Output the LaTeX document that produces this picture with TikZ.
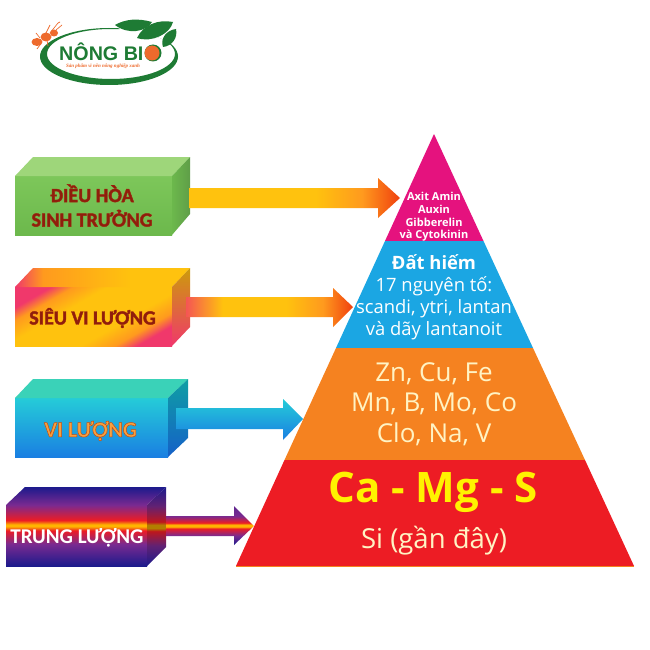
\documentclass[tikz,border=0pt]{standalone}
\usepackage{fontspec}
\setmainfont{Open Sans}
\newfontfamily\calfont{Carlito}
\definecolor{gA}{HTML}{7DC75A}\definecolor{gB}{HTML}{6CB84C}\definecolor{gTop}{HTML}{9ED67A}\definecolor{gSide}{HTML}{5F9E48}
\definecolor{mag}{HTML}{E5127E}\definecolor{sky}{HTML}{1BA6E3}\definecolor{org}{HTML}{F58220}\definecolor{rd}{HTML}{ED1C24}
\definecolor{lgreen}{HTML}{1E7B34}\definecolor{lorange}{HTML}{EE6A2C}\definecolor{yel}{HTML}{FFC20E}\definecolor{cream}{HTML}{FFF3C4}
\definecolor{dred}{HTML}{8E1E0C}\definecolor{purp}{HTML}{7A2A90}\definecolor{navy}{HTML}{1C1A8C}\definecolor{pinkr}{HTML}{F0386B}
\definecolor{amber}{HTML}{FF9A1E}\definecolor{hot}{HTML}{F0400E}\definecolor{stripe}{HTML}{FFB400}
\definecolor{cyA}{HTML}{25CCD8}\definecolor{cyB}{HTML}{1A7FE2}\definecolor{tealT}{HTML}{3AD2B8}\definecolor{tealS}{HTML}{0F9FA4}\definecolor{blS}{HTML}{1560C8}
\definecolor{lblV}{HTML}{F7A040}
\pgfdeclareverticalshading{boxdiag}{100bp}{color(0bp)=(pinkr);color(25bp)=(pinkr);color(31bp)=(amber);color(40bp)=(yel);color(60bp)=(yel);color(69bp)=(amber);color(75bp)=(pinkr);color(100bp)=(pinkr)}
\pgfdeclarehorizontalshading{boxtop}{100bp}{color(0bp)=(pinkr);color(25bp)=(pinkr);color(33bp)=(amber);color(58bp)=(yel);color(100bp)=(yel)}
\pgfdeclarehorizontalshading{warmA}{100bp}{color(0bp)=(yel);color(55bp)=(yel);color(66bp)=(amber);color(75bp)=(hot);color(100bp)=(hot)}
\pgfdeclarehorizontalshading{warmB}{100bp}{color(0bp)=(pinkr);color(25bp)=(pinkr!70!amber);color(36bp)=(yel);color(55bp)=(yel);color(66bp)=(amber);color(75bp)=(hot);color(100bp)=(hot)}
\pgfdeclareverticalshading{bandF}{100bp}{color(0bp)=(navy);color(25bp)=(navy);color(43bp)=(purp);color(54bp)=(rd);color(57.5bp)=(stripe);color(59bp)=(stripe);color(62.5bp)=(rd);color(75bp)=(purp);color(100bp)=(purp)}
\pgfdeclareverticalshading{bandS}{100bp}{color(0bp)=(navy);color(25bp)=(navy);color(38bp)=(purp!80!black);color(47bp)=(rd!80!black);color(49bp)=(stripe!70!black);color(51bp)=(stripe!70!black);color(53bp)=(rd!80!black);color(63bp)=(purp!80!black);color(75bp)=(navy);color(100bp)=(navy)}
\pgfdeclareverticalshading{bandA}{100bp}{color(0bp)=(navy);color(25bp)=(navy);color(37bp)=(purp);color(46bp)=(rd);color(48.5bp)=(stripe);color(51bp)=(stripe);color(53.5bp)=(rd);color(62bp)=(purp);color(75bp)=(purp!70!navy);color(100bp)=(navy)}
\newcommand{\halo}[3]{\special{pdf:code 2 Tr #2 w #1 RG}#3\special{pdf:code 0 Tr}}
\newcommand{\darkhalo}[1]{\halo{0.62 0.14 0.05}{0.45}{#1}}
\tikzset{
 x=1pt,y=-1pt,
 boxlabel/.style={font=\calfont\bfseries\fontsize{20}{24.5}\selectfont,align=center,inner sep=0},
 tier/.style={align=center,inner sep=0,text=white},
 edge/.style={line width=0.8pt}
}
\begin{document}
\begin{tikzpicture}
\useasboundingbox (0,0) rectangle (650,650);
\fill[white] (0,0) rectangle (650,650);
% --- logo
\fill[lgreen,even odd rule] (109,56.5) ellipse [x radius=69,y radius=28.5] (111,54) ellipse [x radius=64,y radius=25];
\fill[white] (118,18) -- (182,18) -- (184,44) -- (174,44) -- (150,34) -- (120,32) -- cycle;
\fill[lorange] (37,42) ellipse [x radius=5.5,y radius=4];
\fill[lorange] (46,37) ellipse [x radius=5.5,y radius=4.5];
\fill[lorange] (54,33) ellipse [x radius=4,y radius=3.5];
\draw[lorange,line width=.7pt] (46,33) -- (50,25) (50,33) -- (58,23) -- (60,22) (56,30) -- (62,25) (40,38) -- (36,33) (40,45) -- (37,49) (47,40) -- (48,46);
\fill[lgreen] (115,25) .. controls (125,19) and (138,18) .. (152,22) .. controls (146,32) and (128,35) .. (115,25);
\fill[lgreen] (137,38) .. controls (143,25) and (158,19) .. (173,22) .. controls (170,34) and (152,43) .. (137,38);
\fill[lgreen] (163,47) .. controls (160,38) and (167,30) .. (176,29) .. controls (178,38) and (172,46) .. (163,47);
\fill[lgreen] (153,53) circle (8.5);
\fill[lorange] (152,53) circle (7.5);
\node[inner sep=0,text=lgreen,font=\fontspec{Liberation Sans}\bfseries\fontsize{19.7}{20}\selectfont,anchor=west] (logotext) at (59,52) {NÔNG BI};
\node[inner sep=0,text=lorange,font=\fontspec{Liberation Serif}\itshape\bfseries\fontsize{5}{6}\selectfont] (logotag) at (103,66) {Sản phẩm vì nền nông nghiệp xanh};
% --- box 1
\shade[top color=gA,bottom color=gB] (15,176) rectangle (172,235);
\fill[gTop] (15,176) -- (33,157) -- (190,157) -- (172,176) -- cycle;
\shade[left color=gB,right color=gSide] (172,176) -- (190,157) -- (190,214) -- (172,235) -- cycle;
\node[boxlabel,text=dred] (b1) at (92,205.5) {\darkhalo{ĐIỀU HÒA}\\\darkhalo{SINH TRƯỞNG}};
% --- box 2
\shade[shading=boxdiag,shading angle=30] (15,287) rectangle (172,346);
\shade[shading=boxtop] (15,287) -- (33,268) -- (190,268) -- (172,287) -- cycle;
\shade[top color=yel!80!black,bottom color=pinkr] (172,287) -- (190,268) -- (190,327) -- (172,346) -- cycle;
\node[boxlabel,text=dred] (b2) at (92.5,318) {\darkhalo{SIÊU VI LƯỢNG}};
% --- box 3
\shade[top color=cyA,bottom color=cyB] (15,398) rectangle (168,457);
\fill[tealT] (15,398) -- (33,379) -- (188,379) -- (168,398) -- cycle;
\shade[top color=tealS,bottom color=blS] (168,398) -- (188,379) -- (188,438) -- (168,457) -- cycle;
\node[boxlabel,text=lblV,font=\calfont\bfseries\fontsize{22}{24}\selectfont] (b3) at (90.5,431) {\halo{0.78 0.3 0.05}{0.5}{VI LƯỢNG}};
% --- box 4
\shade[shading=bandF] (6,505) rectangle (147,566);
\shade[top color=navy,bottom color=purp] (6,505) -- (25,487) -- (166,487) -- (147,505) -- cycle;
\shade[shading=bandS] (147,505) -- (166,487) -- (166,547) -- (147,566) -- cycle;
\node[boxlabel,text=white,font=\calfont\bfseries\fontsize{21}{24}\selectfont] (b4) at (77,537.5) {TRUNG LƯỢNG};
% --- arrows
\shade[shading=warmA] (189,188) -- (378,188) -- (378,178) -- (400,198) -- (378,218) -- (378,208) -- (189,208) -- cycle;
\shade[shading=warmB] (186,297) -- (333,297) -- (333,288) -- (353,307) -- (333,327) -- (333,317) -- (186,317) -- cycle;
\shade[top color=cyA,bottom color=cyB] (176,408) -- (283,408) -- (283,399) -- (303,419) -- (283,440) -- (283,429) -- (176,429) -- cycle;
\shade[shading=bandA] (166,516) -- (234,516) -- (234,506) -- (254,526) -- (234,545) -- (234,536) -- (166,536) -- cycle;
% --- pyramid
\fill[mag] (434,134) -- (483.5,241) -- (385,241) -- cycle;
\fill[sky] (385,241) -- (483.5,241) -- (533,348) -- (336,348) -- cycle;
\fill[org] (336,348) -- (533,348) -- (585,460) -- (284.5,460) -- cycle;
\fill[rd] (284.5,460) -- (585,460) -- (634,566) -- (236,566) -- cycle;
\draw[edge,org] (336,348) -- (533,348);
\draw[edge,org] (236,566) -- (634,566);
\node[tier,font=\bfseries\fontsize{11}{12.6}\selectfont] (t1) at (434,217) {Axit Amin\\Auxin\\Gibberelin\\và Cytokinin};
\node[tier,font=\fontsize{18.4}{22}\selectfont] (t2) at (434,297) {\textbf{Đất hiếm}\\17 nguyên tố:\\scandi, ytri, lantan\\và dãy lantanoit};
\node[tier,text=cream,font=\fontsize{26}{30.5}\selectfont] (t3) at (434,404) {Zn, Cu, Fe\\Mn, B, Mo, Co\\Clo, Na, V};
\node[tier,text=yellow,font=\bfseries\fontsize{42}{44}\selectfont] (t4) at (433,492) {Ca - Mg - S};
\node[tier,text=cream,font=\fontsize{27.5}{29}\selectfont] (t5) at (434,541) {Si (gần đây)};
\end{tikzpicture}
\end{document}
